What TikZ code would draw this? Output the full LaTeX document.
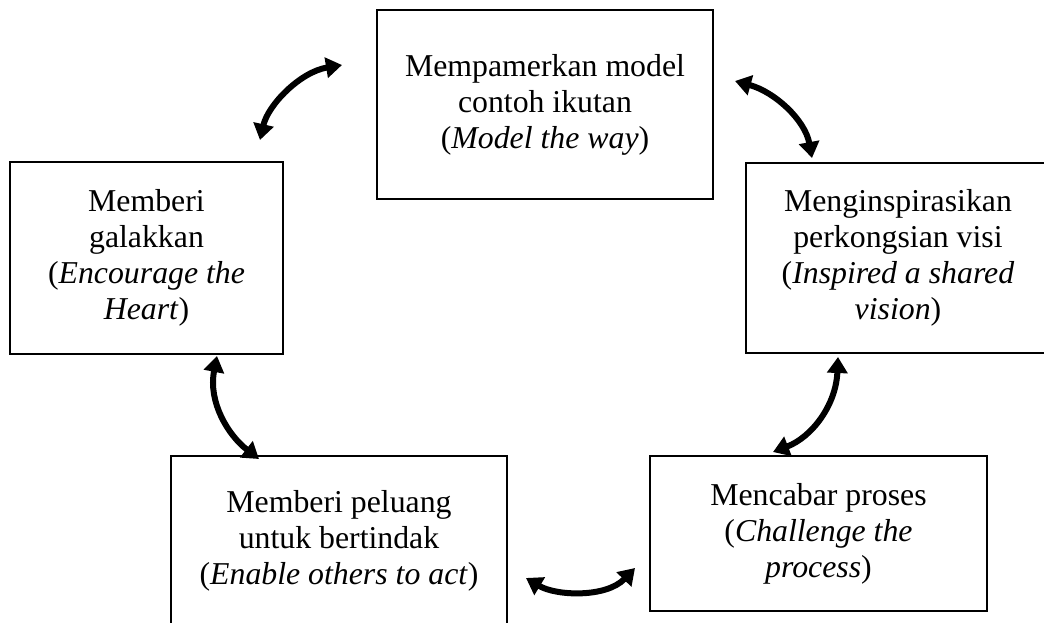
\documentclass[tikz,border=0pt]{standalone}
\usepackage{fontspec}
\setmainfont{Liberation Serif}
\usetikzlibrary{arrows.meta}
\begin{document}
\begin{tikzpicture}[x=1pt,y=-1pt,
  stagebox/.style={draw, line width=2.4pt, inner sep=0pt, align=center,
    font=\fontsize{31.8}{36}\selectfont},
  cyclearrow/.style={line width=6pt, {Triangle[length=16pt,width=20pt]}-{Triangle[length=16pt,width=20pt]}}]
  \useasboundingbox (0,0) rectangle (1044,622);
  % five leadership practices
  \node[stagebox, minimum width=336pt, minimum height=189pt] (model) at (545,104.5)
    {Mempamerkan model\\contoh ikutan\\(\textit{Model the way})};
  \node[stagebox, minimum width=304pt, minimum height=190pt] (vision) at (898,258)
    {Menginspirasikan\\perkongsian visi\\(\textit{Inspired a shared}\\\textit{vision})};
  \node[stagebox, minimum width=273pt, minimum height=192pt] (heart) at (146.5,258)
    {Memberi\\galakkan\\(\textit{Encourage the}\\\textit{Heart})};
  \node[stagebox, minimum width=336pt, minimum height=170pt] (enable) at (339,541)
    {Memberi peluang\\untuk bertindak\\(\textit{Enable others to act})};
  \node[stagebox, minimum width=337pt, minimum height=155pt] (challenge) at (818.5,533.5)
    {Mencabar proses\\(\textit{Challenge the}\\\textit{process})};
  % arrow end points
  \coordinate (a1s) at (260,140);
  \coordinate (a1e) at (342,65);
  \coordinate (a2s) at (735,81);
  \coordinate (a2e) at (812,158);
  \coordinate (a3s) at (217,356);
  \coordinate (a3e) at (259,459);
  \coordinate (a4s) at (838,357);
  \coordinate (a4e) at (773,452);
  \coordinate (a5s) at (526,578);
  \coordinate (a5e) at (635,568);
  % curved two-way arrows between the practices
  \draw[cyclearrow] (a1s) .. controls (268,105) and (300,72) .. (a1e);
  \draw[cyclearrow] (a2s) .. controls (775,92) and (805,120) .. (a2e);
  \draw[cyclearrow] (a3s) .. controls (208,402) and (228,435) .. (a3e);
  \draw[cyclearrow] (a4s) .. controls (836,405) and (812,437) .. (a4e);
  \draw[cyclearrow] (a5s) .. controls (556,596) and (606,598) .. (a5e);
\end{tikzpicture}
\end{document}
